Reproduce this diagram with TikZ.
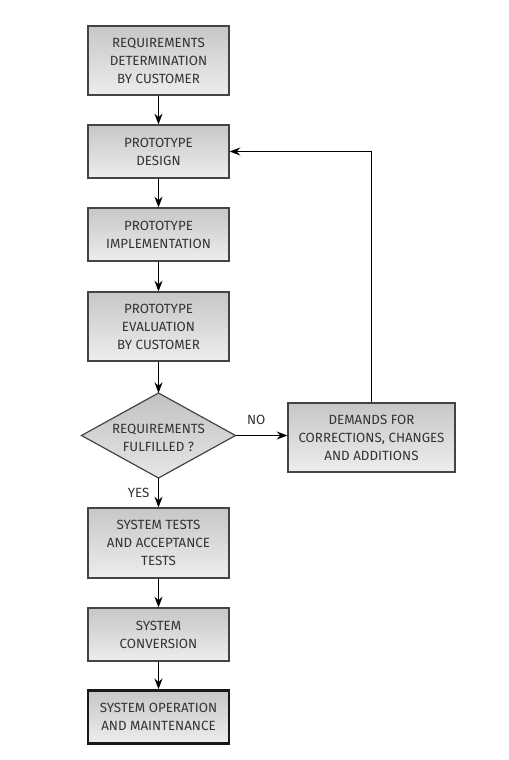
\documentclass[tikz,border=0pt]{standalone}
\usepackage{fontspec}
\setmainfont{Fira Sans}
\usetikzlibrary{arrows.meta}
\definecolor{edge}{HTML}{444444}
\definecolor{ink}{HTML}{333333}
\begin{document}
\begin{tikzpicture}[x=0.75pt,y=-0.75pt,
  proc/.style={rectangle,draw=edge,line width=0.9pt,top color=black!22,bottom color=black!7,
    minimum width=141*0.75pt,align=center,text=ink,font=\fontsize{10}{13.5}\selectfont,inner sep=0pt},
  dec/.style={draw=edge,line width=0.9pt,top color=black!24,bottom color=black!10},
  txt/.style={align=center,text=ink,font=\fontsize{10}{13.5}\selectfont,inner sep=0pt},
  flow/.style={draw=black,line width=0.9pt,-{Stealth[length=8pt,width=6pt]}},
  lbl/.style={text=ink,font=\fontsize{10}{11}\selectfont}]
\useasboundingbox (0,0) rectangle (508,760);
\node[proc,minimum height=69*0.75pt] (req) at (158.5,60.5) {REQUIREMENTS\\DETERMINATION\\BY CUSTOMER};
\node[proc,minimum height=53*0.75pt] (des) at (158.5,151.5) {PROTOTYPE\\DESIGN};
\node[proc,minimum height=53*0.75pt] (imp) at (158.5,234.5) {PROTOTYPE\\IMPLEMENTATION};
\node[proc,minimum height=69*0.75pt] (eva) at (158.5,326.5) {PROTOTYPE\\EVALUATION\\BY CUSTOMER};
% decision diamond drawn as a path, corners named
\coordinate (fulN) at (158.5,393);
\coordinate (fulE) at (235.5,435.5);
\coordinate (fulS) at (158.5,478);
\coordinate (fulW) at (81.5,435.5);
\path[dec] (fulN) -- (fulE) -- (fulS) -- (fulW) -- cycle;
\node[txt] (ful) at (158.5,437.5) {REQUIREMENTS\\FULFILLED ?};
\node[proc,minimum width=167*0.75pt,minimum height=69*0.75pt] (dem) at (371.5,437.5) {DEMANDS FOR\\CORRECTIONS, CHANGES\\AND ADDITIONS};
\node[proc,minimum height=70*0.75pt] (tst) at (158.5,543) {SYSTEM TESTS\\AND ACCEPTANCE\\TESTS};
\node[proc,minimum height=53*0.75pt] (con) at (158.5,634.5) {SYSTEM\\CONVERSION};
\node[proc,draw=black!90,line width=2pt,minimum height=53*0.75pt] (ope) at (158.5,717) {SYSTEM OPERATION\\AND MAINTENANCE};
\coordinate (bend) at (dem.north |- des.east);
\draw[flow] (req) -- (des);
\draw[flow] (des) -- (imp);
\draw[flow] (imp) -- (eva);
\draw[flow] (eva.south) -- (fulN);
\draw[flow] (fulE) -- node[lbl,above=4pt,pos=0.4] (no) {NO} (fulE -| dem.west);
\draw[flow] (fulS) -- node[lbl,left=3pt,pos=0.5] (yes) {YES} (tst.north);
\draw[flow] (dem.north) -- (bend) -- (des.east);
\draw[flow] (tst) -- (con);
\draw[flow] (con) -- (ope);
\end{tikzpicture}
\end{document}
